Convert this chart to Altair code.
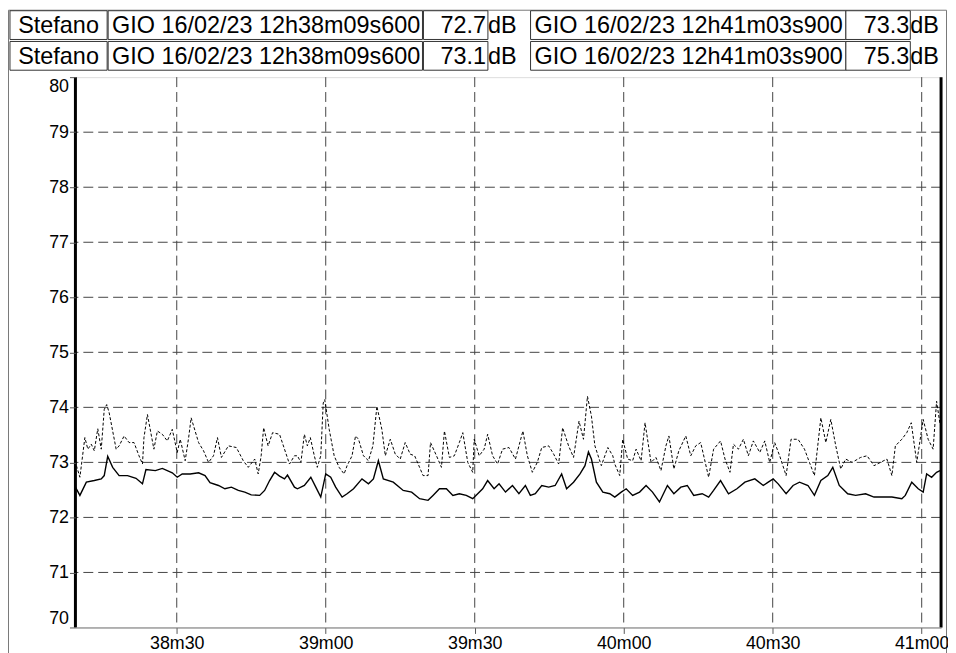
import altair as alt
import pandas as pd

# ---------------- data (time = seconds after 12h38m00, level in dB) ----------------
solid_t = [9.6, 10.5, 11.8, 13.4, 14.8, 15.4, 16.1, 17.1, 18.4, 20.1,
           21.8, 23.1, 23.8, 25.7, 27.1, 29.1, 30.1, 31.1, 32.7, 34.4,
           35.7, 36.7, 38.4, 39.7, 41.0, 42.4, 43.7, 45.0, 46.7, 47.7,
           48.7, 49.7, 50.7, 51.7, 52.3, 53.7,
           54.3, 55.7, 57.0, 58.0, 59.0, 60.0, 61.0, 62.0, 63.3, 64.3,
           65.6, 67.3, 68.6, 69.6, 70.6, 71.6, 73.6, 75.6, 77.3, 78.9,
           80.6, 81.6, 82.9, 84.3, 85.6, 86.9, 88.3, 89.6, 90.6, 91.6,
           92.6, 93.9, 94.9, 96.2, 97.6, 98.9, 100.2, 101.2, 102.2, 103.5,
           104.9, 106.2, 107.5, 108.5, 109.9, 111.2, 112.2, 112.9, 113.5, 114.5,
           115.8, 117.2,
           118.2, 119.5, 120.5, 121.8, 123.2, 124.5, 125.8, 127.2, 128.8, 130.1,
           131.5, 132.8, 134.1, 135.8, 137.1, 138.1, 139.5, 141.1, 142.8, 144.4,
           146.4, 148.1, 149.1, 150.1, 151.1, 152.7, 154.1, 155.4, 157.1, 158.4,
           159.7, 161.1, 162.1, 163.4, 165.1, 166.7, 168.7, 170.4, 172.0, 174.0,
           176.0, 176.7, 178.0, 179.3, 180.3, 181.0, 182.0, 183.0, 183.7]
solid_v = [72.55, 72.40, 72.64, 72.67, 72.70, 72.76, 73.11, 72.91, 72.76, 72.76,
           72.71, 72.61, 72.87, 72.85, 72.89, 72.81, 72.73, 72.79, 72.79, 72.81,
           72.76, 72.63, 72.58, 72.52, 72.55, 72.49, 72.46, 72.41, 72.40, 72.49,
           72.67, 72.82, 72.75, 72.70, 72.77, 72.55,
           72.52, 72.58, 72.73, 72.55, 72.37, 72.79, 72.73, 72.55, 72.37, 72.43,
           72.52, 72.70, 72.61, 72.70, 73.03, 72.70, 72.64, 72.49, 72.46, 72.34,
           72.31, 72.40, 72.52, 72.52, 72.40, 72.43, 72.40, 72.34, 72.43, 72.52,
           72.67, 72.52, 72.61, 72.46, 72.58, 72.43, 72.58, 72.40, 72.43, 72.58,
           72.55, 72.58, 72.79, 72.52, 72.64, 72.79, 72.94, 73.19, 73.06, 72.64,
           72.46, 72.43,
           72.37, 72.46, 72.52, 72.40, 72.46, 72.58, 72.46, 72.28, 72.58, 72.43,
           72.55, 72.58, 72.40, 72.43, 72.37, 72.49, 72.67, 72.43, 72.52, 72.64,
           72.70, 72.58, 72.64, 72.70, 72.61, 72.43, 72.58, 72.64, 72.58, 72.40,
           72.67, 72.76, 72.91, 72.58, 72.43, 72.40, 72.43, 72.37, 72.37, 72.37,
           72.34, 72.40, 72.64, 72.52, 72.46, 72.79, 72.73, 72.82, 72.85]

dash_t = [9.8, 10.5, 11.5, 12.1, 12.8, 13.4, 14.1, 14.8, 15.4, 15.9,
          16.4, 17.8, 18.4, 19.4, 20.4, 21.4, 22.4, 23.1, 23.4, 24.1,
          25.4, 26.1, 27.1, 28.1, 29.1, 30.1, 30.7, 31.7, 32.4, 32.9,
          34.4, 35.4, 36.4, 37.4, 38.2, 39.0, 40.4, 42.0, 43.4, 44.4,
          45.7, 46.4, 47.0, 47.5, 48.4, 49.3, 50.7, 51.7, 52.7, 53.7,
          54.3, 55.0, 55.7, 56.3, 56.9, 57.7, 58.3, 59.0, 59.5, 59.8,
          60.7, 61.7, 62.7, 63.7, 64.3, 65.3, 66.0, 66.6, 67.6, 68.6,
          69.5, 70.3, 71.3, 72.0, 73.0, 74.0, 75.0, 76.0, 77.0, 77.9,
          78.9, 79.6, 80.6, 81.1, 82.3, 83.3, 83.9, 84.9, 85.9, 86.9,
          87.6, 88.6, 89.6, 89.9, 90.9, 91.9, 92.6, 93.6, 94.6, 95.6,
          96.9, 98.2, 99.7, 100.6, 101.6, 102.6, 103.5, 104.9, 105.9, 106.9,
          107.7, 108.9, 109.9, 111.0, 111.9, 112.7, 113.5, 114.2, 115.5, 116.8,
          117.8,
          118.2, 119.2, 119.8, 120.8, 121.8, 122.5, 123.5, 124.3, 125.5, 126.5,
          127.5, 128.5, 129.1, 130.1, 131.1, 132.5, 133.5, 134.5, 135.5, 137.1,
          138.1, 139.5, 140.4, 141.4, 142.1, 143.1, 144.1, 145.1, 146.1, 147.4,
          148.4, 149.4, 150.4, 151.4, 152.7, 153.7, 155.1, 156.4, 157.4, 158.4,
          159.7, 160.7, 161.7, 162.7, 163.7, 164.7, 166.0, 167.7, 169.0, 170.4,
          171.7, 173.0, 174.0, 174.7, 176.0, 177.0, 177.9, 179.0, 180.3, 181.3,
          182.3, 183.0, 183.7]
dash_v = [72.94, 72.73, 73.45, 73.24, 73.33, 73.21, 73.61, 73.24, 73.96, 74.05,
          73.90, 73.24, 73.30, 73.48, 73.36, 73.36, 73.12, 72.97, 73.45, 73.87,
          73.24, 73.57, 73.51, 73.39, 73.60, 73.18, 73.42, 73.03, 73.45, 73.81,
          73.36, 73.21, 73.00, 73.12, 73.45, 73.09, 73.30, 73.27, 73.03, 72.91,
          73.06, 72.79, 73.12, 73.63, 73.30, 73.54, 73.51, 73.24, 72.97, 73.12,
          73.12, 73.00, 73.51, 73.30, 73.45, 73.12, 72.91, 73.12, 74.08, 74.14,
          73.60, 73.12, 72.91, 72.79, 72.94, 73.12, 73.48, 73.42, 73.12, 73.03,
          73.30, 74.02, 73.60, 73.12, 73.42, 73.15, 73.06, 73.36, 73.15, 73.12,
          72.91, 72.76, 72.76, 73.36, 73.12, 72.91, 73.57, 73.09, 73.12, 73.36,
          73.54, 73.00, 72.82, 73.42, 73.12, 73.24, 73.51, 73.12, 72.97, 73.24,
          73.27, 73.06, 73.57, 73.12, 72.82, 73.00, 73.27, 73.30, 73.15, 72.97,
          73.63, 73.30, 73.09, 73.75, 73.42, 74.20, 73.84, 73.30, 72.94, 73.27,
          73.12,
          72.97, 72.76, 73.42, 73.06, 73.03, 73.24, 73.03, 73.72, 73.00, 73.09,
          72.85, 73.30, 73.48, 72.88, 73.21, 73.48, 73.12, 73.30, 73.36, 72.73,
          73.24, 73.39, 73.06, 72.82, 73.33, 73.24, 73.42, 73.12, 73.39, 73.18,
          73.39, 73.00, 73.36, 73.12, 72.76, 73.42, 73.42, 73.24, 73.00, 72.76,
          73.81, 73.36, 73.78, 73.30, 72.88, 73.06, 73.00, 73.09, 73.12, 72.94,
          73.00, 73.06, 72.76, 73.30, 73.42, 73.54, 73.72, 73.00, 73.78, 73.42,
          73.24, 74.11, 73.69]

cursor_t = [9.6, 183.9]                 # 12h38m09s600 and 12h41m03s900
x_ticks = [30, 60, 90, 120, 150, 180]
y_ticks = [70, 71, 72, 73, 74, 75, 76, 77, 78, 79, 80]

row_names = ["Stefano", "Stefano"]
row_start = ["GIO 16/02/23 12h38m09s600", "GIO 16/02/23 12h38m09s600"]
row_val1 = ["72.7", "73.1"]
row_end = ["GIO 16/02/23 12h41m03s900", "GIO 16/02/23 12h41m03s900"]
row_val2 = ["73.3", "75.3"]
unit = "dB"

# ---------------- styling / layout ----------------
FONT = "Liberation Sans"
HFS = 23.6
W, H = 873, 555

x_scale = alt.Scale(domain=[9.6, 183.9], nice=False, zero=False)
y_scale = alt.Scale(domain=[70, 80], nice=False, zero=False)

x_axis = alt.Axis(values=x_ticks, grid=False, title=None, zindex=2,
                  labelExpr="(38 + floor(datum.value / 60)) + 'm' + (datum.value % 60 < 10 ? '0' : '') + (datum.value % 60)",
                  domainColor="#777", tickColor="#555", tickSize=6,
                  labelFont=FONT, labelFontSize=18, labelColor="black", labelPadding=1)
y_axis = alt.Axis(values=y_ticks, grid=False, title=None, domain=False, labelFlush=True, zindex=2,
                  format="d", tickColor="#555", tickSize=6,
                  labelFont=FONT, labelFontSize=18, labelColor="black", labelPadding=1)

one = pd.DataFrame({"k": [0]})


def box(x1, x2, y1, y2, stroke="#333", sw=1.0, fill="white", op=1.0):
    return alt.Chart(one).mark_rect(fill=fill, fillOpacity=op, stroke=stroke, strokeWidth=sw).encode(
        x=alt.value(x1), x2=alt.value(x2), y=alt.value(y1), y2=alt.value(y2))


def label(s, x, y, align):
    return alt.Chart(one).mark_text(text=s, align=align, baseline="middle", font=FONT,
                                    fontSize=HFS, color="black").encode(
        x=alt.value(x), y=alt.value(y))


layers = [box(-67.5, 878.5, -67.5, 600, stroke="#777", op=0.0)]

row_tops = [-67, -36]
row_h = 29
for i in range(2):
    top = row_tops[i]
    bot = top + row_h
    mid = (top + bot) / 2 + 1
    layers += [
        box(-66, 32, top, bot),
        box(33, 350, top, bot),
        box(351, 416, top, bot),
        box(459, 777, top, bot),
        box(777, 842, top, bot),
        label(row_names[i], -17, mid, "center"),
        label(row_start[i], 37, mid, "left"),
        label(row_val1[i], 414, mid, "right"),
        label(unit, 416, mid, "left"),
        label(row_end[i], 463, mid, "left"),
        label(row_val2[i], 841, mid, "right"),
        label(unit, 842, mid, "left"),
    ]

grid_style = dict(color="#444", strokeDash=[10, 5], strokeWidth=1)
ygrid = alt.Chart(pd.DataFrame({"v": y_ticks[1:-1]})).mark_rule(**grid_style).encode(
    y=alt.Y("v:Q", scale=y_scale, axis=y_axis))
xgrid = alt.Chart(pd.DataFrame({"t": x_ticks})).mark_rule(**grid_style).encode(
    x=alt.X("t:Q", scale=x_scale, axis=x_axis))

solid = alt.Chart(pd.DataFrame({"t": solid_t, "v": solid_v})).mark_line(
    color="black", strokeWidth=1.4).encode(
    x=alt.X("t:Q", scale=x_scale, axis=x_axis),
    y=alt.Y("v:Q", scale=y_scale, axis=y_axis))
dashed = alt.Chart(pd.DataFrame({"t": dash_t, "v": dash_v})).mark_line(
    color="black", strokeWidth=1, strokeDash=[3, 2]).encode(
    x=alt.X("t:Q", scale=x_scale, axis=x_axis),
    y=alt.Y("v:Q", scale=y_scale, axis=y_axis))
cursors = alt.Chart(pd.DataFrame({"t": cursor_t})).mark_rule(color="black", strokeWidth=3).encode(
    x=alt.X("t:Q", scale=x_scale, axis=x_axis))

layers += [ygrid, xgrid, dashed, solid, cursors]

chart = alt.layer(*layers).resolve_axis(x="shared", y="shared").properties(
    width=W, height=H,
    padding={"left": 68, "top": 67, "right": 7, "bottom": 23},
    autosize=alt.AutoSizeParams(type="none"),
).configure_view(strokeWidth=0).configure(background="white")

chart.save("out.html", embed_options={"renderer": "svg", "actions": False})
